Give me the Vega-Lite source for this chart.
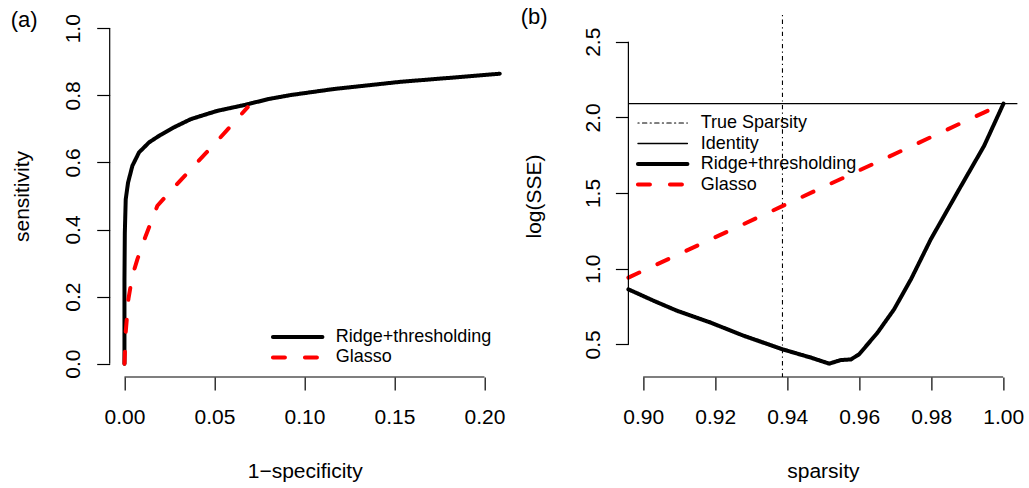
{
  "$schema": "https://vega.github.io/schema/vega-lite/v6.json",
  "padding": {"left": 10.7, "top": 6, "right": 5, "bottom": 5},
  "background": "white",
  "config": {
    "font": "Liberation Sans",
    "view": {"stroke": null},
    "axis": {
      "grid": false, "domain": false, "tickColor": "black", "tickWidth": 1.2, "tickSize": 13,
      "labelFontSize": 21, "labelColor": "black", "titleFontSize": 21, "titleFontWeight": "normal",
      "titleColor": "black", "labelFlush": false, "labelOverlap": false
    },
    "legend": {
      "orient": "none", "symbolType": "stroke", "symbolSize": 2450, "labelFontSize": 18,
      "labelColor": "black", "labelOffset": 11, "clipHeight": 20, "rowPadding": 0.5, "padding": 0,
      "title": null, "labelLimit": 300
    },
    "title": {"fontSize": 22, "fontWeight": "normal", "color": "black", "anchor": "start", "frame": "group", "baseline": "alphabetic"}
  },
  "datasets": {
    "roc": [
      {"series": "Ridge+thresholding", "fpr": 0, "tpr": 0},
      {"series": "Ridge+thresholding", "fpr": 0, "tpr": 0.25},
      {"series": "Ridge+thresholding", "fpr": 0.0002, "tpr": 0.39},
      {"series": "Ridge+thresholding", "fpr": 0.0007, "tpr": 0.49},
      {"series": "Ridge+thresholding", "fpr": 0.002, "tpr": 0.54},
      {"series": "Ridge+thresholding", "fpr": 0.0044, "tpr": 0.59},
      {"series": "Ridge+thresholding", "fpr": 0.0081, "tpr": 0.63},
      {"series": "Ridge+thresholding", "fpr": 0.0137, "tpr": 0.66},
      {"series": "Ridge+thresholding", "fpr": 0.02, "tpr": 0.682},
      {"series": "Ridge+thresholding", "fpr": 0.0276, "tpr": 0.705},
      {"series": "Ridge+thresholding", "fpr": 0.0368, "tpr": 0.729},
      {"series": "Ridge+thresholding", "fpr": 0.0517, "tpr": 0.754},
      {"series": "Ridge+thresholding", "fpr": 0.0665, "tpr": 0.771},
      {"series": "Ridge+thresholding", "fpr": 0.08, "tpr": 0.789},
      {"series": "Ridge+thresholding", "fpr": 0.0924, "tpr": 0.801},
      {"series": "Ridge+thresholding", "fpr": 0.1164, "tpr": 0.819},
      {"series": "Ridge+thresholding", "fpr": 0.1535, "tpr": 0.8405},
      {"series": "Ridge+thresholding", "fpr": 0.1813, "tpr": 0.8525},
      {"series": "Ridge+thresholding", "fpr": 0.2085, "tpr": 0.8645},
      {"series": "Glasso", "fpr": 0, "tpr": 0},
      {"series": "Glasso", "fpr": 0.0007, "tpr": 0.094},
      {"series": "Glasso", "fpr": 0.0022, "tpr": 0.193},
      {"series": "Glasso", "fpr": 0.0044, "tpr": 0.262},
      {"series": "Glasso", "fpr": 0.0072, "tpr": 0.312},
      {"series": "Glasso", "fpr": 0.0118, "tpr": 0.381},
      {"series": "Glasso", "fpr": 0.0183, "tpr": 0.471},
      {"series": "Glasso", "fpr": 0.0267, "tpr": 0.521},
      {"series": "Glasso", "fpr": 0.0387, "tpr": 0.59},
      {"series": "Glasso", "fpr": 0.0517, "tpr": 0.665},
      {"series": "Glasso", "fpr": 0.0685, "tpr": 0.765}
    ],
    "sse": [
      {"series": "True Sparsity", "sparsity": 0.9387, "logsse": null},
      {"series": "Identity", "sparsity": null, "logsse": 2.091},
      {"series": "Ridge+thresholding", "sparsity": 0.8959, "logsse": 0.8635},
      {"series": "Ridge+thresholding", "sparsity": 0.9031, "logsse": 0.786},
      {"series": "Ridge+thresholding", "sparsity": 0.9096, "logsse": 0.72},
      {"series": "Ridge+thresholding", "sparsity": 0.9188, "logsse": 0.643},
      {"series": "Ridge+thresholding", "sparsity": 0.9281, "logsse": 0.555},
      {"series": "Ridge+thresholding", "sparsity": 0.9387, "logsse": 0.467},
      {"series": "Ridge+thresholding", "sparsity": 0.9466, "logsse": 0.412},
      {"series": "Ridge+thresholding", "sparsity": 0.9517, "logsse": 0.372},
      {"series": "Ridge+thresholding", "sparsity": 0.9549, "logsse": 0.396},
      {"series": "Ridge+thresholding", "sparsity": 0.9577, "logsse": 0.4},
      {"series": "Ridge+thresholding", "sparsity": 0.96, "logsse": 0.434},
      {"series": "Ridge+thresholding", "sparsity": 0.9651, "logsse": 0.577},
      {"series": "Ridge+thresholding", "sparsity": 0.9697, "logsse": 0.731},
      {"series": "Ridge+thresholding", "sparsity": 0.9744, "logsse": 0.93},
      {"series": "Ridge+thresholding", "sparsity": 0.9799, "logsse": 1.194},
      {"series": "Ridge+thresholding", "sparsity": 0.9883, "logsse": 1.546},
      {"series": "Ridge+thresholding", "sparsity": 0.9947, "logsse": 1.811},
      {"series": "Ridge+thresholding", "sparsity": 1.0001, "logsse": 2.091},
      {"series": "Glasso", "sparsity": 0.8959, "logsse": 0.941},
      {"series": "Glasso", "sparsity": 1.0, "logsse": 2.091}
    ]
  },
  "bounds": "flush",
  "spacing": 128.7,
  "resolve": {
    "scale": {"x": "independent", "y": "independent", "color": "independent", "strokeDash": "independent", "strokeWidth": "independent"},
    "legend": {"color": "independent", "strokeDash": "independent", "strokeWidth": "independent"}
  },
  "hconcat": [
    {
      "width": 390, "height": 362,
      "title": {"text": "(a)", "dx": -99, "offset": -18},
      "layer": [
        {
          "data": {"name": "roc"},
          "mark": {"type": "line", "strokeCap": "round", "strokeJoin": "round"},
          "encoding": {
            "x": {"field": "fpr", "type": "quantitative", "scale": {"domain": [-0.0082, 0.20847], "nice": false, "zero": false},
                  "axis": {"values": [0, 0.05, 0.1, 0.15, 0.2], "format": ".2f", "title": "1\u2212specificity", "labelPadding": 17, "titlePadding": 33, "titleBaseline": "top"}},
            "y": {"field": "tpr", "type": "quantitative", "scale": {"domain": [-0.0396, 1.0396], "nice": false, "zero": false},
                  "axis": {"values": [0, 0.2, 0.4, 0.6, 0.8, 1.0], "format": ".1f", "title": "sensitivity", "labelAngle": 270, "labelAlign": "center", "labelBaseline": "alphabetic", "labelPadding": 17, "titleAngle": 270, "titleBaseline": "alphabetic", "titlePadding": 34}},
            "color": {"field": "series", "type": "nominal", "scale": {"domain": ["Ridge+thresholding", "Glasso"], "range": ["black", "#ff0000"]},
                      "legend": {"legendX": 161, "legendY": 312, "encode": {"symbols": {"update": {"strokeCap": {"value": "round"}}}}}},
            "strokeDash": {"field": "series", "type": "nominal", "scale": {"domain": ["Ridge+thresholding", "Glasso"], "range": [[1, 0], [12, 20]]},
                      "legend": {"legendX": 161, "legendY": 312}},
            "strokeWidth": {"field": "series", "type": "ordinal", "scale": {"type": "ordinal", "domain": ["Ridge+thresholding", "Glasso"], "range": [4, 4]},
                      "legend": {"legendX": 161, "legendY": 312}}
          }
        },
        {
          "data": {"values": [{}]},
          "mark": {"type": "rule", "color": "black", "strokeWidth": 1.2},
          "encoding": {"x": {"datum": 0, "type": "quantitative"}, "x2": {"datum": 0.2}, "y": {"datum": -0.0396, "type": "quantitative"}}
        },
        {
          "data": {"values": [{}]},
          "mark": {"type": "rule", "color": "black", "strokeWidth": 1.2},
          "encoding": {"x": {"datum": -0.0082, "type": "quantitative"}, "y": {"datum": 0, "type": "quantitative"}, "y2": {"datum": 1}}
        }
      ]
    },
    {
      "width": 389, "height": 362,
      "title": {"text": "(b)", "dx": -107.7, "offset": -15},
      "layer": [
        {
          "data": {"name": "sse"},
          "transform": [{"filter": "datum.series === 'True Sparsity'"}],
          "mark": {"type": "rule"},
          "encoding": {
            "x": {"field": "sparsity", "type": "quantitative", "scale": {"domain": [0.8959, 1.00396], "nice": false, "zero": false}},
            "color": {"field": "series", "type": "nominal", "scale": {"domain": ["True Sparsity", "Identity", "Ridge+thresholding", "Glasso"], "range": ["black", "black", "black", "#ff0000"]}},
            "strokeDash": {"field": "series", "type": "nominal", "scale": {"domain": ["True Sparsity", "Identity", "Ridge+thresholding", "Glasso"], "range": [[1.2, 3.3, 4.4, 3.3], [1, 0], [1, 0], [12, 20]]}},
            "strokeWidth": {"field": "series", "type": "ordinal", "scale": {"type": "ordinal", "domain": ["True Sparsity", "Identity", "Ridge+thresholding", "Glasso"], "range": [1.1, 1.3, 4, 4]}}
          }
        },
        {
          "data": {"name": "sse"},
          "transform": [{"filter": "datum.series === 'Identity'"}],
          "mark": {"type": "rule"},
          "encoding": {
            "y": {"field": "logsse", "type": "quantitative", "scale": {"domain": [0.284, 2.6766], "nice": false, "zero": false}},
            "color": {"field": "series", "type": "nominal", "scale": {"domain": ["True Sparsity", "Identity", "Ridge+thresholding", "Glasso"], "range": ["black", "black", "black", "#ff0000"]}},
            "strokeDash": {"field": "series", "type": "nominal", "scale": {"domain": ["True Sparsity", "Identity", "Ridge+thresholding", "Glasso"], "range": [[1.2, 3.3, 4.4, 3.3], [1, 0], [1, 0], [12, 20]]}},
            "strokeWidth": {"field": "series", "type": "ordinal", "scale": {"type": "ordinal", "domain": ["True Sparsity", "Identity", "Ridge+thresholding", "Glasso"], "range": [1.1, 1.3, 4, 4]}}
          }
        },
        {
          "data": {"name": "sse"},
          "transform": [{"filter": "datum.series === 'Ridge+thresholding' || datum.series === 'Glasso'"}],
          "mark": {"type": "line", "strokeCap": "round", "strokeJoin": "round"},
          "encoding": {
            "x": {"field": "sparsity", "type": "quantitative", "scale": {"domain": [0.8959, 1.00396], "nice": false, "zero": false},
                  "axis": {"values": [0.9, 0.92, 0.94, 0.96, 0.98, 1.0], "format": ".2f", "title": "sparsity", "labelPadding": 17, "titlePadding": 33, "titleBaseline": "top"}},
            "y": {"field": "logsse", "type": "quantitative", "scale": {"domain": [0.284, 2.6766], "nice": false, "zero": false},
                  "axis": {"values": [0.5, 1.0, 1.5, 2.0, 2.5], "format": ".1f", "title": "log(SSE)", "labelAngle": 270, "labelAlign": "center", "labelBaseline": "alphabetic", "labelPadding": 16, "titleAngle": 270, "titleBaseline": "alphabetic", "titlePadding": 42}},
            "color": {"field": "series", "type": "nominal", "scale": {"domain": ["True Sparsity", "Identity", "Ridge+thresholding", "Glasso"], "range": ["black", "black", "black", "#ff0000"]},
                      "legend": {"legendX": 7.3, "legendY": 98, "encode": {"symbols": {"update": {"strokeCap": {"value": "round"}}}}}},
            "strokeDash": {"field": "series", "type": "nominal", "scale": {"domain": ["True Sparsity", "Identity", "Ridge+thresholding", "Glasso"], "range": [[1.2, 3.3, 4.4, 3.3], [1, 0], [1, 0], [12, 20]]},
                      "legend": {"legendX": 7.3, "legendY": 98}},
            "strokeWidth": {"field": "series", "type": "ordinal", "scale": {"type": "ordinal", "domain": ["True Sparsity", "Identity", "Ridge+thresholding", "Glasso"], "range": [1.1, 1.3, 4, 4]},
                      "legend": {"legendX": 7.3, "legendY": 98}}
          }
        },
        {
          "data": {"values": [{}]},
          "mark": {"type": "rule", "color": "black", "strokeWidth": 1.2},
          "encoding": {"x": {"datum": 0.9, "type": "quantitative"}, "x2": {"datum": 1.0}, "y": {"datum": 0.284, "type": "quantitative"}}
        },
        {
          "data": {"values": [{}]},
          "mark": {"type": "rule", "color": "black", "strokeWidth": 1.2},
          "encoding": {"x": {"datum": 0.8959, "type": "quantitative"}, "y": {"datum": 0.5, "type": "quantitative"}, "y2": {"datum": 2.5}}
        }
      ]
    }
  ]
}
